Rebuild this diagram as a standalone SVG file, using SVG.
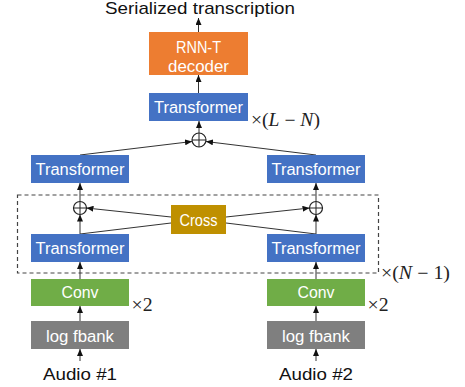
<svg xmlns="http://www.w3.org/2000/svg" width="465" height="387" viewBox="0 0 465 387">
<style>
.lbl{font-family:"Liberation Sans","Open Sans",sans-serif;font-size:16px;fill:#ffffff;text-anchor:middle}
.cap{font-family:"Liberation Sans","Open Sans",sans-serif;font-size:17px;fill:#111111;text-anchor:middle}
.math{font-family:"Liberation Serif","DejaVu Serif",serif;font-size:18px;fill:#222222}
.blue{fill:#4472C4}
.orange{fill:#ED7D31}
.green{fill:#70AD47}
.gray{fill:#7F7F7F}
.gold{fill:#BF9000}
.conn line{stroke:#333333;stroke-width:1;fill:none}
.plus{fill:#ffffff;stroke:#222222;stroke-width:1.2}
.dash{fill:none;stroke:#444444;stroke-width:1.2;stroke-dasharray:4 3}
</style>
<defs>
<marker id="arr" markerWidth="7" markerHeight="6" refX="7" refY="3" orient="auto" markerUnits="userSpaceOnUse">
<path d="M0,0 L7,3 L0,6 Z" fill="#111111"/>
</marker>
</defs>

<rect class="dash" x="17.5" y="195" width="361" height="78"/>

<g id="connectors" class="conn">
<line x1="198.5" y1="32" x2="198.5" y2="18" marker-end="url(#arr)"/>
<line x1="198.5" y1="93" x2="198.5" y2="75" marker-end="url(#arr)"/>
<line x1="199" y1="133" x2="199" y2="121" marker-end="url(#arr)"/>
<line x1="80" y1="155" x2="192" y2="141.5" marker-end="url(#arr)"/>
<line x1="316" y1="155" x2="206" y2="141.5" marker-end="url(#arr)"/>
<line x1="80" y1="201.5" x2="80" y2="183" marker-end="url(#arr)"/>
<line x1="316" y1="201.5" x2="316" y2="183" marker-end="url(#arr)"/>
<line x1="80" y1="234" x2="80" y2="214.5" marker-end="url(#arr)"/>
<line x1="316" y1="234" x2="316" y2="214.5" marker-end="url(#arr)"/>
<line x1="171" y1="217" x2="86.5" y2="208" marker-end="url(#arr)"/>
<line x1="171" y1="223" x2="80" y2="234"/>
<line x1="226" y1="217" x2="309.5" y2="208" marker-end="url(#arr)"/>
<line x1="226" y1="223" x2="316" y2="234"/>
<line x1="80" y1="279" x2="80" y2="262" marker-end="url(#arr)"/>
<line x1="316" y1="279" x2="316" y2="262" marker-end="url(#arr)"/>
<line x1="80" y1="321" x2="80" y2="306" marker-end="url(#arr)"/>
<line x1="316" y1="321" x2="316" y2="306" marker-end="url(#arr)"/>
<line x1="80" y1="361" x2="80" y2="349" marker-end="url(#arr)"/>
<line x1="316" y1="361" x2="316" y2="349" marker-end="url(#arr)"/>
</g>

<g id="output">
<text class="cap" x="200" y="14" font-size="16" textLength="190" lengthAdjust="spacingAndGlyphs">Serialized transcription</text>
</g>

<g id="rnnt">
<rect class="orange" x="149" y="32" width="99" height="43"/>
<text class="lbl" x="198.5" y="53" textLength="45" lengthAdjust="spacingAndGlyphs">RNN-T</text>
<text class="lbl" x="198.5" y="71.5" textLength="61" lengthAdjust="spacingAndGlyphs">decoder</text>
</g>

<g id="transformer-top">
<rect class="blue" x="149" y="93" width="99" height="28"/>
<text class="lbl" x="198.5" y="113" textLength="89" lengthAdjust="spacingAndGlyphs">Transformer</text>
<text class="math" x="251" y="125.5" textLength="69" lengthAdjust="spacingAndGlyphs">×(<tspan font-style="italic">L</tspan> − <tspan font-style="italic">N</tspan>)</text>
</g>

<g id="plus-top">
<circle class="plus" cx="199" cy="140" r="7"/>
<line x1="192" y1="140" x2="206" y2="140" stroke="#222" stroke-width="1"/>
<line x1="199" y1="133" x2="199" y2="147" stroke="#222" stroke-width="1"/>
</g>

<g id="transformer-left-upper">
<rect class="blue" x="31" y="155" width="98" height="28"/>
<text class="lbl" x="80" y="175" textLength="89" lengthAdjust="spacingAndGlyphs">Transformer</text>
</g>
<g id="transformer-right-upper">
<rect class="blue" x="267" y="155" width="98" height="28"/>
<text class="lbl" x="316" y="175" textLength="89" lengthAdjust="spacingAndGlyphs">Transformer</text>
</g>

<g id="plus-left">
<circle class="plus" cx="80" cy="208" r="6.5"/>
<line x1="73.5" y1="208" x2="86.5" y2="208" stroke="#222" stroke-width="1"/>
<line x1="80" y1="201.5" x2="80" y2="214.5" stroke="#222" stroke-width="1"/>
</g>
<g id="plus-right">
<circle class="plus" cx="316" cy="208" r="6.5"/>
<line x1="309.5" y1="208" x2="322.5" y2="208" stroke="#222" stroke-width="1"/>
<line x1="316" y1="201.5" x2="316" y2="214.5" stroke="#222" stroke-width="1"/>
</g>

<g id="cross">
<rect class="gold" x="171" y="205" width="55" height="29"/>
<text class="lbl" x="198.5" y="225.5" textLength="38" lengthAdjust="spacingAndGlyphs">Cross</text>
</g>

<g id="transformer-left-lower">
<rect class="blue" x="31" y="234" width="98" height="28"/>
<text class="lbl" x="80" y="254" textLength="89" lengthAdjust="spacingAndGlyphs">Transformer</text>
</g>
<g id="transformer-right-lower">
<rect class="blue" x="267" y="234" width="98" height="28"/>
<text class="lbl" x="316" y="254" textLength="89" lengthAdjust="spacingAndGlyphs">Transformer</text>
</g>

<g id="repeat-label">
<text class="math" x="381" y="278.5" textLength="69" lengthAdjust="spacingAndGlyphs">×(<tspan font-style="italic">N</tspan> − 1)</text>
</g>

<g id="conv-left">
<rect class="green" x="31" y="279" width="98" height="27"/>
<text class="lbl" x="80" y="297.5" textLength="37" lengthAdjust="spacingAndGlyphs">Conv</text>
<text class="math" x="131.5" y="310.5" textLength="21" lengthAdjust="spacingAndGlyphs">×2</text>
</g>
<g id="conv-right">
<rect class="green" x="267" y="279" width="98" height="27"/>
<text class="lbl" x="316" y="297.5" textLength="37" lengthAdjust="spacingAndGlyphs">Conv</text>
<text class="math" x="367.5" y="310.5" textLength="21" lengthAdjust="spacingAndGlyphs">×2</text>
</g>

<g id="fbank-left">
<rect class="gray" x="31" y="321" width="98" height="28"/>
<text class="lbl" x="80" y="341.5" textLength="68" lengthAdjust="spacingAndGlyphs">log fbank</text>
</g>
<g id="fbank-right">
<rect class="gray" x="267" y="321" width="98" height="28"/>
<text class="lbl" x="316" y="341.5" textLength="68" lengthAdjust="spacingAndGlyphs">log fbank</text>
</g>

<g id="audio1">
<text class="cap" x="80" y="380" textLength="74" lengthAdjust="spacingAndGlyphs">Audio #1</text>
</g>
<g id="audio2">
<text class="cap" x="316" y="380" textLength="74" lengthAdjust="spacingAndGlyphs">Audio #2</text>
</g>
</svg>
